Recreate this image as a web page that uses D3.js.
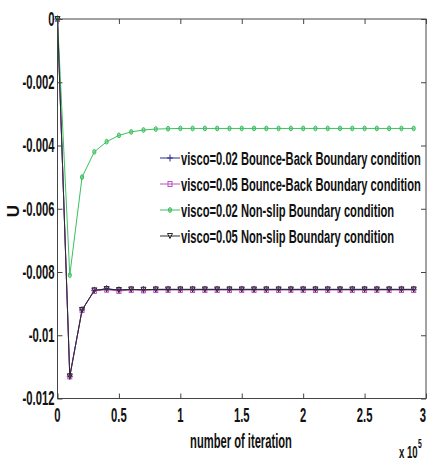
<!DOCTYPE html>
<html>
<head>
<meta charset="utf-8">
<script src="https://cdn.jsdelivr.net/npm/d3@7/dist/d3.min.js"></script>
<style>
  html, body { margin: 0; padding: 0; background: #fff; }
  svg { display: block; }
</style>
</head>
<body>
<svg id="chart" width="427" height="461"></svg>
<script>
// ---------------- data ----------------
const iterations = [0, 10000, 20000, 30000, 40000, 50000, 60000, 70000, 80000, 90000,
  100000, 110000, 120000, 130000, 140000, 150000, 160000, 170000, 180000, 190000,
  200000, 210000, 220000, 230000, 240000, 250000, 260000, 270000, 280000, 290000];

const seriesLabels = [
  "visco=0.02 Bounce-Back Boundary condition",
  "visco=0.05 Bounce-Back Boundary condition",
  "visco=0.02 Non-slip Boundary condition",
  "visco=0.05 Non-slip Boundary condition"
];

const bounceBack002 = [0, -0.0113, -0.0092, -0.00858, -0.00853, -0.00857, -0.00855, -0.00856, -0.00855, -0.00855,
  -0.00855, -0.00855, -0.00855, -0.00855, -0.00855, -0.00855, -0.00855, -0.00855, -0.00855, -0.00855,
  -0.00855, -0.00855, -0.00855, -0.00855, -0.00855, -0.00855, -0.00855, -0.00855, -0.00855, -0.00855];
const bounceBack005 = [0, -0.0113, -0.0092, -0.00860, -0.00856, -0.00860, -0.00857, -0.00858, -0.00857, -0.00857,
  -0.00857, -0.00857, -0.00857, -0.00857, -0.00857, -0.00857, -0.00857, -0.00857, -0.00857, -0.00857,
  -0.00857, -0.00857, -0.00857, -0.00857, -0.00857, -0.00857, -0.00857, -0.00857, -0.00857, -0.00857];
const nonSlip002 = [0, -0.0081, -0.0050, -0.0042, -0.00388, -0.00368, -0.00357, -0.00351, -0.00348, -0.00347,
  -0.00346, -0.00346, -0.00346, -0.00346, -0.00346, -0.00346, -0.00346, -0.00346, -0.00346, -0.00346,
  -0.00346, -0.00346, -0.00346, -0.00346, -0.00346, -0.00346, -0.00346, -0.00346, -0.00346, -0.00346];
const nonSlip005 = [0, -0.0113, -0.0092, -0.00858, -0.00854, -0.00857, -0.00855, -0.00856, -0.00855, -0.00855,
  -0.00855, -0.00855, -0.00855, -0.00855, -0.00855, -0.00855, -0.00855, -0.00855, -0.00855, -0.00855,
  -0.00855, -0.00855, -0.00855, -0.00855, -0.00855, -0.00855, -0.00855, -0.00855, -0.00855, -0.00855];

const xTickValues = [0, 50000, 100000, 150000, 200000, 250000, 300000];
const xTickLabels = ["0", "0.5", "1", "1.5", "2", "2.5", "3"];
const yTickValues = [0, -0.002, -0.004, -0.006, -0.008, -0.01, -0.012];
const yTickLabels = ["0", "-0.002", "-0.004", "-0.006", "-0.008", "-0.01", "-0.012"];

const xAxisTitle = "number of iteration";
const yAxisTitle = "U";
const xExponentBase = "x 10";
const xExponent = "5";

// ---------------- layout ----------------
const svg = d3.select("#chart");
const FONT = "'Liberation Sans Narrow', 'Arial Narrow', 'Liberation Sans', Arial, sans-serif";
const mLeft = 57.5, mRight = 426, mTop = 19, mBottom = 398.5;
const W = 427;

const x = d3.scaleLinear().domain([0, 300000]).range([mLeft, mRight]);
const y = d3.scaleLinear().domain([-0.012, 0]).range([mBottom, mTop]);

const series = [
  { name: seriesLabels[0], values: bounceBack002, color: "#2b2b8c", marker: "plus" },
  { name: seriesLabels[1], values: bounceBack005, color: "#c050c0", marker: "square" },
  { name: seriesLabels[2], values: nonSlip002, color: "#3cc060", marker: "circle" },
  { name: seriesLabels[3], values: nonSlip005, color: "#2a2a2a", marker: "triangle" }
];

function measure(str, size, weight) {
  const t = svg.append("text").attr("font-family", FONT).attr("font-size", size)
    .attr("font-weight", weight).text(str);
  const w = t.node().getComputedTextLength();
  t.remove();
  return w;
}
function squish(sel, sx) {
  sel.each(function () {
    const t = d3.select(this);
    const tx = +t.attr("x"), ty = +t.attr("y");
    t.attr("transform", `translate(${tx},${ty}) scale(${sx},1) translate(${-tx},${-ty})`);
  });
}

const tickSize = 20, legSize = 19;
const sxTick = 32 / measure("-0.002", tickSize, "bold");
const sxLeg = 240 / measure(seriesLabels[0], legSize, "bold");
const sxTitle = 102 / measure(xAxisTitle, tickSize, "bold");

// ---------------- lines & markers ----------------
const line = d3.line().x((d, i) => x(iterations[i])).y(d => y(d));
const plot = svg.append("g");

function drawMarker(g, type, cx, cy, color) {
  if (type === "plus") {
    g.append("path").attr("d", `M${cx - 3},${cy}H${cx + 3}M${cx},${cy - 3.5}V${cy + 3.5}`)
      .attr("stroke", color).attr("stroke-width", 1).attr("fill", "none");
  } else if (type === "square") {
    g.append("rect").attr("x", cx - 2).attr("y", cy - 2.5).attr("width", 4).attr("height", 5)
      .attr("stroke", color).attr("stroke-width", 1).attr("fill", "none");
  } else if (type === "circle") {
    g.append("ellipse").attr("cx", cx).attr("cy", cy).attr("rx", 1.6).attr("ry", 2.4)
      .attr("stroke", color).attr("stroke-width", 1).attr("fill", color).attr("fill-opacity", 0.5);
  } else if (type === "triangle") {
    g.append("path").attr("d", `M${cx - 2.5},${cy - 2.5}H${cx + 2.5}L${cx},${cy + 2.5}Z`)
      .attr("stroke", color).attr("stroke-width", 1).attr("fill", "none");
  }
}

series.forEach(s => {
  plot.append("path").datum(s.values).attr("d", line)
    .attr("fill", "none").attr("stroke", s.color).attr("stroke-width", 1);
  s.values.forEach((v, i) => drawMarker(plot, s.marker, x(iterations[i]), y(v), s.color));
});

// ---------------- axes (box with inward ticks) ----------------
const axisColor = "#444";
svg.append("rect").attr("x", mLeft).attr("y", mTop).attr("width", mRight - mLeft).attr("height", mBottom - mTop)
  .attr("fill", "none").attr("stroke", axisColor).attr("stroke-width", 1);

const bottomAxis = d3.axisBottom(x).tickValues(xTickValues).tickSize(-5).tickFormat("");
const topAxis = d3.axisTop(x).tickValues(xTickValues).tickSize(-5).tickFormat("");
const leftAxis = d3.axisLeft(y).tickValues(yTickValues).tickSize(-5).tickFormat("");
const rightAxis = d3.axisRight(y).tickValues(yTickValues).tickSize(-5).tickFormat("");
[[bottomAxis, `translate(0,${mBottom})`], [topAxis, `translate(0,${mTop})`],
 [leftAxis, `translate(${mLeft},0)`], [rightAxis, `translate(${mRight},0)`]].forEach(([ax, tr]) => {
  const g = svg.append("g").attr("transform", tr).call(ax);
  g.select(".domain").remove();
  g.selectAll("line").attr("stroke", axisColor);
});

const yLab = svg.append("g").selectAll("text").data(yTickValues).join("text")
  .attr("x", mLeft - 3).attr("y", d => y(d) + 7)
  .attr("text-anchor", "end").attr("font-family", FONT).attr("font-size", tickSize)
  .attr("font-weight", "bold").attr("fill", "#111")
  .text((d, i) => yTickLabels[i]);
squish(yLab, sxTick);

// x tick labels: keep the last one inside the window
const xLab = svg.append("g").selectAll("text").data(xTickValues).join("text")
  .attr("x", d => x(d) >= W - 2 ? W - 1 : x(d)).attr("y", 422)
  .attr("text-anchor", d => x(d) >= W - 2 ? "end" : "middle")
  .attr("font-family", FONT).attr("font-size", tickSize)
  .attr("font-weight", "bold").attr("fill", "#111")
  .text((d, i) => xTickLabels[i]);
squish(xLab, sxTick);

const xt = svg.append("text").attr("x", 241).attr("y", 448).attr("text-anchor", "middle")
  .attr("font-family", FONT).attr("font-size", tickSize).attr("font-weight", "bold").attr("fill", "#111")
  .text(xAxisTitle);
squish(xt, sxTitle);

svg.append("text").attr("transform", "translate(19,211) rotate(-90)")
  .attr("text-anchor", "middle").attr("font-family", FONT).attr("font-size", 17)
  .attr("font-weight", "bold").attr("fill", "#111").text(yAxisTitle);

const ex = svg.append("text").attr("x", 399).attr("y", 458)
  .attr("font-family", FONT).attr("font-size", 17).attr("font-weight", "bold").attr("fill", "#111")
  .text(xExponentBase);
squish(ex, sxTick);
const ex2 = svg.append("text").attr("x", 418).attr("y", 448)
  .attr("font-family", FONT).attr("font-size", 12).attr("font-weight", "bold").attr("fill", "#111")
  .text(xExponent);
squish(ex2, sxTick);

// ---------------- legend ----------------
const legY = [158, 184, 210, 236];
const leg = svg.append("g");
series.forEach((s, i) => {
  const ly = legY[i];
  leg.append("line").attr("x1", 160).attr("x2", 180).attr("y1", ly).attr("y2", ly)
    .attr("stroke", s.color).attr("stroke-width", 1);
  drawMarker(leg, s.marker, 170, ly, s.color);
  const t = leg.append("text").attr("x", 181).attr("y", ly + 7)
    .attr("font-family", FONT).attr("font-size", legSize).attr("font-weight", "bold").attr("fill", "#111")
    .text(s.name);
  squish(t, sxLeg);
});
</script>
</body>
</html>
